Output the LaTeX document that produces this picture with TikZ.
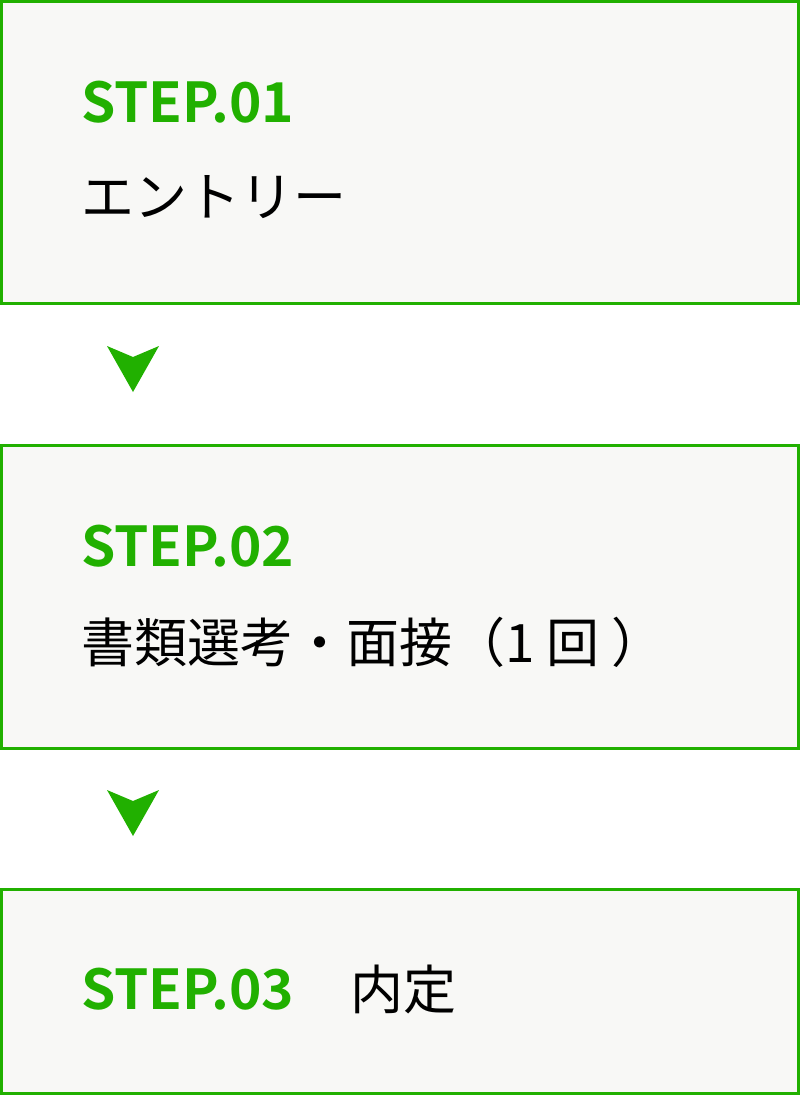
\documentclass[tikz,border=0pt]{standalone}
\usepackage{fontspec}
\newfontfamily\jpfont[BoldFont={Noto Sans CJK JP Bold}]{Noto Sans CJK JP}
\usetikzlibrary{positioning}
\definecolor{stepgreen}{RGB}{33,176,0}
\definecolor{stepfill}{RGB}{248,248,246}
\tikzset{
  stepbox/.style={draw=stepgreen, fill=stepfill, line width=3pt, minimum width=797pt, inner sep=0pt},
  steplabel/.style={text=stepgreen, font=\jpfont\bfseries\fontsize{55}{60}\selectfont, inner sep=0pt, anchor=base west},
  steptext/.style={text=black, font=\jpfont\fontsize{53}{60}\selectfont, inner sep=0pt, anchor=base west},
  steparrow/.style={fill=stepgreen}
}

\begin{document}
\begin{tikzpicture}[x=1pt, y=-1pt]
    \useasboundingbox (0,0) rectangle (800,1095);
    \node [stepbox, minimum height=302pt] (box1) at (400,152.5) {};
    \node [stepbox, minimum height=303pt] (box2) at (400,597) {};
    \node [stepbox, minimum height=204pt] (box3) at (400,991.5) {};
    \node [steplabel] (lbl1) at (81,122) {STEP.01};
    \node [steptext] (txt1) at (81,216) {エントリー};
    \node [steplabel] (lbl2) at (81,566) {STEP.02};
    \node [steptext] (txt2) at (81,662) {書類選考・面接（1 回 ）};
    \node [steplabel] (lbl3) at (81,1009) {STEP.03};
    \node [steptext, right=56pt of lbl3.base east, anchor=base west] (txt3) {内定};
    % arrows between the steps
    \fill [steparrow] (107,346) -- (133,357) -- (159,346) -- (133,392) -- cycle;
    \fill [steparrow] (107,790) -- (133,801) -- (159,790) -- (133,836) -- cycle;
\end{tikzpicture}
\end{document}
